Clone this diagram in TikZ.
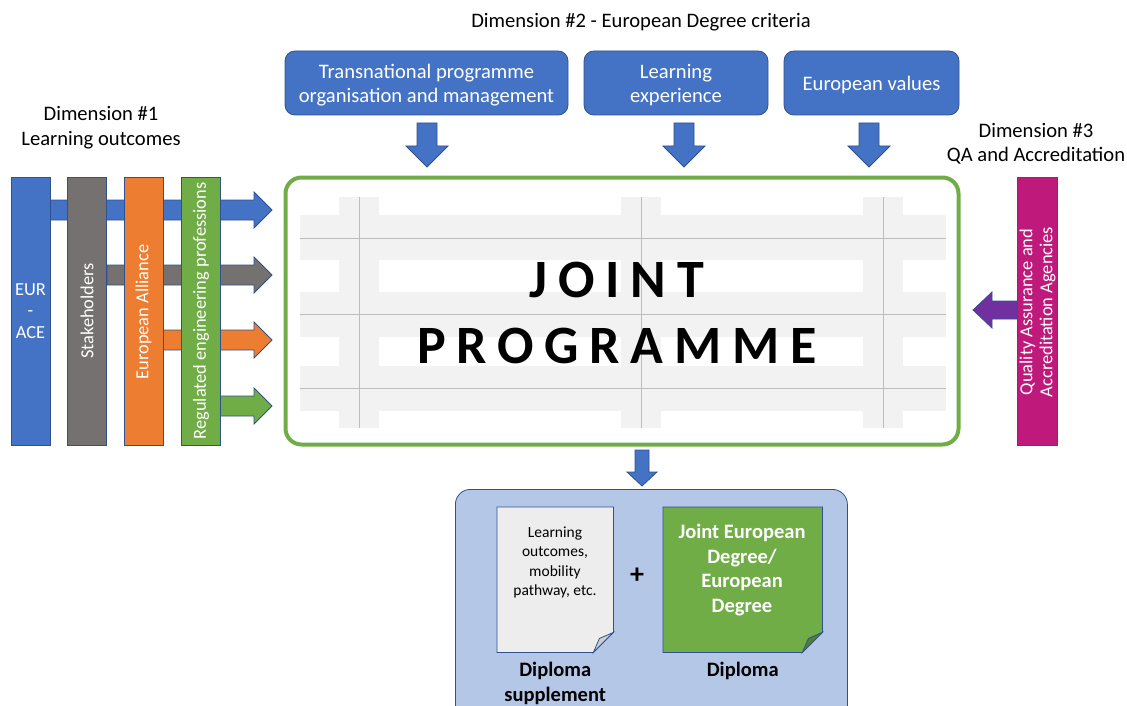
\documentclass[tikz,border=0pt]{standalone}
\usepackage{fontspec}
\setmainfont{Carlito}
\usepackage{tikz}
\usetikzlibrary{positioning}

\definecolor{ppblue}{HTML}{4472C4}
\definecolor{ppdark}{HTML}{2F528F}
\definecolor{ppgray}{HTML}{767171}
\definecolor{pporange}{HTML}{ED7D31}
\definecolor{ppgreen}{HTML}{70AD47}
\definecolor{ppdkgreen}{HTML}{507E32}
\definecolor{ppmagenta}{RGB}{191,25,123}
\definecolor{pppurple}{HTML}{7030A0}
\definecolor{pplight}{HTML}{B4C7E7}
\definecolor{ppband}{HTML}{F2F2F2}
\definecolor{ppline}{HTML}{BDBDBD}
\definecolor{pppaper}{HTML}{EDEDED}
\definecolor{ppfold}{HTML}{CFCFCF}

\tikzset{
  outl/.style={draw=ppdark, line width=0.8},
  dimlabel/.style={align=center, inner sep=0, font=\fontsize{20.6}{24.5}\selectfont},
  critbox/.style={outl, fill=ppblue, rounded corners=10, text=white, align=center,
    inner sep=0, text depth=0pt, minimum height=64, font=\fontsize{20.6}{24}\selectfont},
  bar/.style={outl, minimum width=39, minimum height=268, inner sep=0},
  bartext/.style={text=white, align=center, inner sep=0, font=\fontsize{18.4}{20}\selectfont},
  jptext/.style={inner sep=0, font=\fontsize{54}{60}\selectfont\bfseries\addfontfeatures{LetterSpace=20}},
  page/.style={minimum width=116, minimum height=145, inner sep=0, anchor=north west},
  doctext/.style={align=center, inner sep=0, font=\fontsize{15.5}{19.5}\selectfont},
  diplabel/.style={align=center, inner sep=0, font=\fontsize{20.5}{25}\selectfont\bfseries}
}

% block arrow to the right: colour, x start, y centre, x tip
\newcommand{\fatright}[4]{\draw[outl,fill=#1] (#2,#3-10) -- (#4-18,#3-10) -- (#4-18,#3-18)
  -- (#4,#3) -- (#4-18,#3+18) -- (#4-18,#3+10) -- (#2,#3+10) -- cycle;}
% block arrow down: x centre, y top, y tip, shaft half, head half, head length
\newcommand{\fatdown}[6]{\draw[outl,fill=ppblue] (#1-#4,#2) -- (#1+#4,#2) -- (#1+#4,#3-#6)
  -- (#1+#5,#3-#6) -- (#1,#3) -- (#1-#5,#3-#6) -- (#1-#4,#3-#6) -- cycle;}
% sheet with a folded corner, drawn on a page node
\newcommand{\sheet}[3]{\draw[outl,fill=#2] (#1.north west) -- (#1.north east) -- ([yshift=20]#1.south east)
  -- ([xshift=-20]#1.south east) -- (#1.south west) -- cycle;
  \draw[outl,fill=#3] ([yshift=20]#1.south east) -- ([xshift=-14,yshift=14]#1.south east)
  -- ([xshift=-20]#1.south east) -- cycle;}

\begin{document}
\begin{tikzpicture}[x=1pt,y=-1pt]
\useasboundingbox (0,0) rectangle (1127,706);

% dimension titles
\node[dimlabel] (dimtwo) at (641,22) {Dimension \#2 - European Degree criteria};
\node[dimlabel] (dimone) at (101,127.5) {Dimension \#1\\Learning outcomes};
\node[dimlabel] (dimthree) at (1036,144) {Dimension \#3\\QA and Accreditation};

% European Degree criteria
\node[critbox, minimum width=283] (transnat) at (426.5,83) {Transnational programme\\organisation and management};
\node[critbox, minimum width=184] (learnexp) at (676,83) {Learning\\experience};
\node[critbox, minimum width=175] (euvalues) at (871.5,83) {European values};
\foreach \x in {427,684,869} {% arrows into the programme
\fatdown{\x}{123}{167}{10}{21}{21}}

% joint programme box
\node[draw=ppgreen, line width=4, rounded corners=16, fill=white,
  minimum width=673, minimum height=267] (jointbox) at (622,311) {};
\foreach \y in {215,292,366} % grey bands
\fill[ppband] (300,\y) rectangle (946,\y+45);
\foreach \x in {339,621,863}
\fill[ppband] (\x,197) rectangle (\x+40,428);
\foreach \y in {238,314,388} % grid lines
\draw[ppline] (300,\y) -- (946,\y);
\foreach \x in {359,641,883}
\draw[ppline] (\x,197) -- (\x,428);
\node[jptext, anchor=base] (jptop) at (617,297) {JOINT};
\node[jptext, anchor=base] (jpbottom) at (617,363) {PROGRAMME};

% learning outcomes bars, arrows pass under them
\fatright{ppblue}{50}{210}{272}
\fatright{ppgray}{107}{275}{272}
\fatright{pporange}{163}{340}{272}
\fatright{ppgreen}{220}{406}{272}
\node[bar, fill=ppblue] (eurace) at (30.5,311) {};
\node[bar, fill=ppgray] (stake) at (87,311) {};
\node[bar, fill=pporange] (alliance) at (143.5,311) {};
\node[bar, fill=ppgreen] (regulated) at (201,311) {};
\node[bartext, font=\fontsize{18.4}{21.5}\selectfont] (euracetext) at (eurace) {EUR\\-\\ACE};
\node[bartext, rotate=90] (staketext) at (stake) {Stakeholders};
\node[bartext, rotate=90] (alliancetext) at (143.5,312) {European Alliance};
\node[bartext, rotate=90] (regulatedtext) at (regulated) {Regulated engineering professions};

% QA and accreditation
\draw[outl, fill=pppurple] (1017,301) -- (992,301) -- (992,292) -- (973,310)
  -- (992,328) -- (992,319) -- (1017,319) -- cycle;
\node[bar, fill=ppmagenta, minimum width=40] (qaa) at (1037,311) {};
\node[bartext, rotate=90] (qaatext) at (1037.5,312) {Quality Assurance and\\Accreditation Agencies};

% diploma
\fatdown{642}{450}{486}{7}{15}{14}
\node[outl, fill=pplight, rounded corners=15, minimum width=392, minimum height=240,
  anchor=north west] (diploma) at (455,489) {};
\node[page] (suppage) at (497,507) {};
\node[page, minimum width=159] (degpage) at (663,507) {};
\sheet{suppage}{pppaper}{ppfold}
\sheet{degpage}{ppgreen}{ppdkgreen}
\node[doctext] (suptext) at (555,562.5) {Learning\\outcomes,\\mobility\\pathway, etc.};
\node[doctext, text=white, font=\fontsize{20.5}{24.5}\selectfont\bfseries] (degtext) at (742,570)
  {Joint European\\Degree/\\European\\Degree};
\node[font=\fontsize{28}{30}\selectfont\bfseries, inner sep=0] (plus) at (637,576) {+};
\node[diplabel, below=10pt of suppage] (suplabel) {Diploma\\supplement};
\node[diplabel, below=10pt of degpage] (deglabel) {Diploma};
\end{tikzpicture}
\end{document}
